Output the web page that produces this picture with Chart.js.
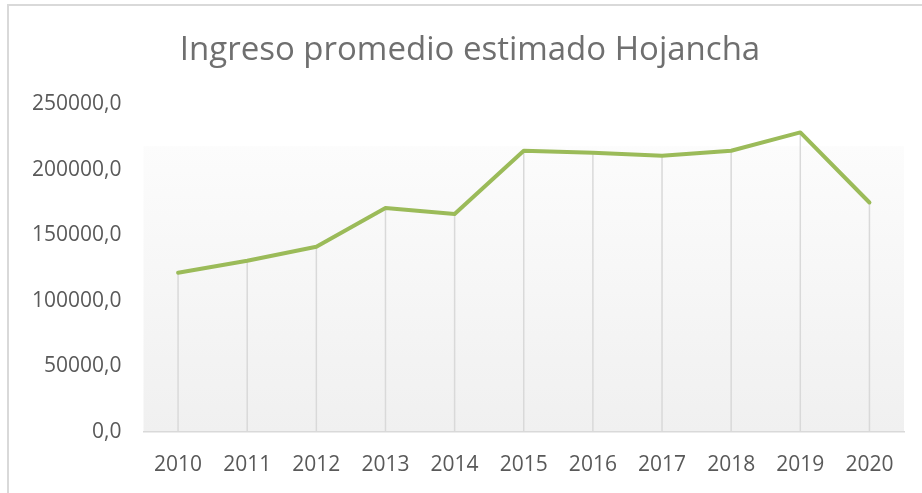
<!DOCTYPE html>
<html>
<head>
<meta charset="utf-8">
<script src="https://cdn.jsdelivr.net/npm/chart.js@4/dist/chart.umd.min.js"></script>
<style>
  html, body { margin: 0; padding: 0; background: #fff; overflow: hidden; }
  #wrap { position: absolute; left: 0; top: 0; width: 922px; height: 493px; }
  #frame { position: absolute; left: 7px; top: 4px; width: 940px; height: 520px;
           border-left: 2px solid #d9d9d9; border-top: 2px solid #d9d9d9; pointer-events: none; }
</style>
</head>
<body>
<div id="wrap"><canvas id="chartIngreso" width="922" height="493"></canvas></div>
<div id="frame"></div>
<script>
const years = ['2010', '2011', '2012', '2013', '2014', '2015', '2016', '2017', '2018', '2019', '2020'];
const ingresoHojancha = [121400, 130600, 141200, 170700, 166200, 214400, 212900, 210600, 214400, 228400, 175000];
const yTicks = [0, 50000, 100000, 150000, 200000, 250000];

// fondo degradado del área de trazado
const plotBackground = {
  id: 'plotBackground',
  afterLayout(chart) {
    // el título va centrado un poco más a la derecha
    if (chart.titleBlock) chart.titleBlock.left = 36;
  },
  beforeDraw(chart) {
    const { ctx, chartArea: a } = chart;
    const start = a.top + a.height * 0.128;
    const g = ctx.createLinearGradient(0, start, 0, a.bottom);
    g.addColorStop(0, '#fcfcfc');
    g.addColorStop(1, '#f0f0f0');
    ctx.save();
    ctx.fillStyle = g;
    ctx.fillRect(a.left, start, a.right - a.left, a.bottom - start);
    ctx.restore();
  }
};

// líneas verticales desde cada punto hasta el eje
const dropLines = {
  id: 'dropLines',
  beforeDatasetsDraw(chart) {
    const { ctx, chartArea: a } = chart;
    const meta = chart.getDatasetMeta(0);
    ctx.save();
    ctx.strokeStyle = '#d9d9d9';
    ctx.lineWidth = 1.5;
    meta.data.forEach(function (pt) {
      ctx.beginPath();
      ctx.moveTo(pt.x, pt.y);
      ctx.lineTo(pt.x, a.bottom);
      ctx.stroke();
    });
    ctx.restore();
  }
};

new Chart(document.getElementById('chartIngreso').getContext('2d'), {
  type: 'line',
  data: {
    labels: years,
    datasets: [{
      label: 'Ingreso promedio estimado Hojancha',
      data: ingresoHojancha,
      borderColor: '#9bbb59',
      borderWidth: 4,
      pointRadius: 0,
      tension: 0,
      borderCapStyle: 'round',
      borderJoinStyle: 'round',
      fill: false
    }]
  },
  options: {
    responsive: false,
    animation: false,
    layout: { padding: { left: 0, right: 18, top: 0, bottom: 0 } },
    plugins: {
      legend: { display: false },
      tooltip: { enabled: false },
      title: {
        display: true,
        text: 'Ingreso promedio estimado Hojancha',
        color: '#6f6f6f',
        font: { family: '"Open Sans"', size: 33, weight: 'normal', lineHeight: 1.2 },
        padding: { top: 31, bottom: 33.5 }
      }
    },
    scales: {
      x: {
        offset: true,
        grid: { display: false, drawTicks: false },
        border: { display: true, color: '#d9d9d9', width: 1.5 },
        ticks: { color: '#595959', padding: 20, font: { family: '"Open Sans"', size: 21 }, maxRotation: 0 },
        afterFit(s) { s.height = 61; }
      },
      y: {
        min: 0,
        max: 250000,
        grid: { display: false, drawTicks: false },
        border: { display: false },
        afterBuildTicks(s) { s.ticks = yTicks.map(v => ({ value: v })); },
        ticks: {
          color: '#595959',
          padding: 22,
          font: { family: '"Open Sans"', size: 21 },
          callback: v => v.toFixed(1).replace('.', ',')
        },
        afterFit(s) { s.width = 143.5; }
      }
    }
  },
  plugins: [plotBackground, dropLines]
});
</script>
</body>
</html>
